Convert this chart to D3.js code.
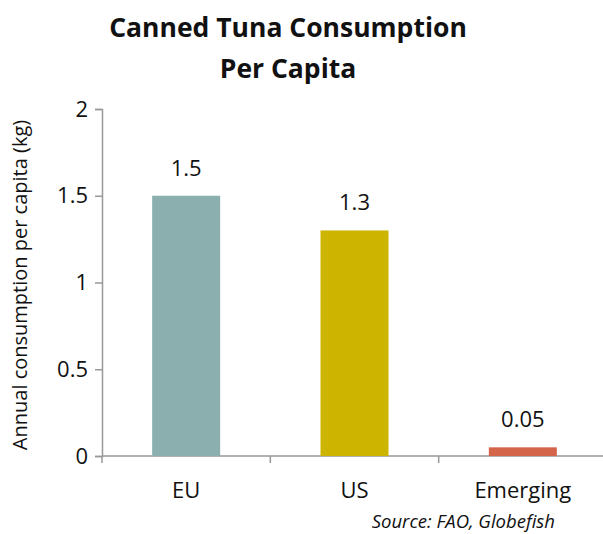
<!DOCTYPE html>
<html>
<head>
<meta charset="utf-8">
<script src="https://cdn.jsdelivr.net/npm/d3@7"></script>
<style>
  body { margin: 0; background: #fff; }
  text { font-family: "Open Sans", "Liberation Sans", sans-serif; fill: #111; }
</style>
</head>
<body>
<div class="chart"></div>
<script>
// data
let regions = ["EU", "US", "Emerging"];
let consumption = [1.5, 1.3, 0.05];
let barColors = ["#8BAFAE", "#CDB400", "#D4654A"];
let yTicks = [0, 0.5, 1, 1.5, 2];

let svgW = 603;
let svgH = 534;

let svg = d3.select(".chart")
  .append("svg")
  .attr("width", svgW)
  .attr("height", svgH);

// scales
let x = d3.scaleBand()
  .domain(regions)
  .range([102, 607])
  .paddingInner(0.596)
  .paddingOuter(0.298);

let y = d3.scaleLinear()
  .domain([0, 2])
  .range([456, 109]);

// title
let title = svg.append("text")
  .attr("text-anchor", "middle")
  .style("font-weight", "bold")
  .style("font-size", "26.5px");
title.append("tspan").attr("x", 288).attr("y", 37).text("Canned Tuna Consumption");
title.append("tspan").attr("x", 288).attr("y", 78).text("Per Capita");

// y axis
let yAxis = svg.append("g")
  .attr("transform", "translate(102,0)")
  .call(d3.axisLeft(y).tickValues(yTicks).tickFormat(d3.format("")).tickSizeOuter(0).tickSize(7).tickPadding(7));
yAxis.select(".domain").attr("stroke", "#999").attr("stroke-width", 1.5);
yAxis.selectAll(".tick line").attr("stroke", "#999").attr("stroke-width", 1.5);
yAxis.selectAll(".tick text").style("font-size", "22px").style("font-family", "'Open Sans', sans-serif").attr("fill", "#111");

// x axis
let xAxis = svg.append("g")
  .attr("transform", "translate(0,456)");
xAxis.append("line")
  .attr("x1", 102).attr("x2", 607)
  .attr("stroke", "#999").attr("stroke-width", 1.5);
xAxis.selectAll(".xtick")
  .data(regions)
  .enter()
  .append("line")
  .attr("x1", d => x(d) - x.step() * 0.298)
  .attr("x2", d => x(d) - x.step() * 0.298)
  .attr("y1", 0).attr("y2", 7)
  .attr("stroke", "#999").attr("stroke-width", 1.5);
xAxis.selectAll(".xlabel")
  .data(regions)
  .enter()
  .append("text")
  .attr("x", d => x(d) + x.bandwidth() / 2)
  .attr("y", 42)
  .attr("text-anchor", "middle")
  .style("font-size", "22px")
  .text(d => d);

// bars
svg.selectAll(".bar")
  .data(regions)
  .enter()
  .append("rect")
  .attr("x", d => x(d))
  .attr("y", (d, i) => y(consumption[i]))
  .attr("width", x.bandwidth())
  .attr("height", (d, i) => y(0) - y(consumption[i]))
  .attr("fill", (d, i) => barColors[i]);

// value labels
svg.selectAll(".val")
  .data(regions)
  .enter()
  .append("text")
  .attr("x", d => x(d) + x.bandwidth() / 2)
  .attr("y", (d, i) => y(consumption[i]) - 20)
  .attr("text-anchor", "middle")
  .style("font-size", "22px")
  .text((d, i) => consumption[i]);

// y axis title
svg.append("text")
  .attr("transform", "translate(27,285) rotate(-90)")
  .attr("text-anchor", "middle")
  .style("font-size", "20px")
  .text("Annual consumption per capita (kg)");

// source
svg.append("text")
  .attr("x", 555)
  .attr("y", 528)
  .attr("text-anchor", "end")
  .style("font-size", "18.5px")
  .style("font-style", "italic")
  .text("Source: FAO, Globefish");
</script>
</body>
</html>
